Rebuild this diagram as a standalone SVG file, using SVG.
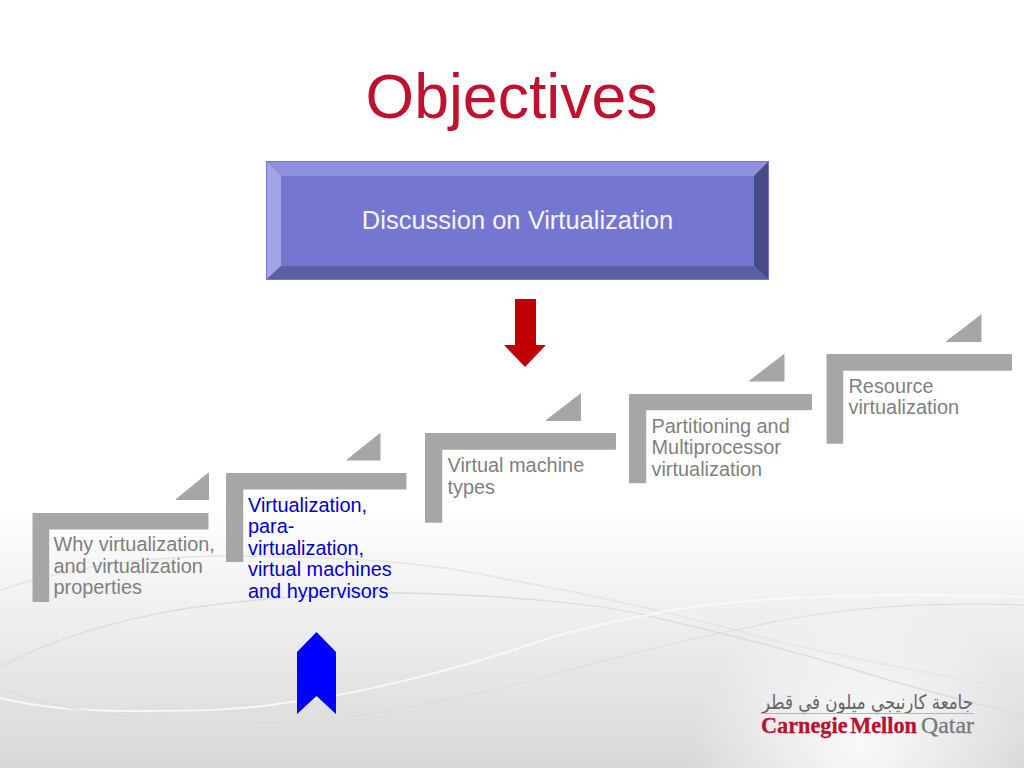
<svg xmlns="http://www.w3.org/2000/svg" width="1024" height="768" viewBox="0 0 1024 768">
<defs>
<linearGradient id="bg" x1="0" y1="0" x2="0" y2="1"><stop offset="0" stop-color="#ffffff"/><stop offset="0.66" stop-color="#ffffff"/><stop offset="0.8" stop-color="#efefef"/><stop offset="1" stop-color="#d8d8d8"/></linearGradient>
<radialGradient id="glow" cx="0.5" cy="0.5" r="0.5"><stop offset="0" stop-color="#ffffff" stop-opacity="0.85"/><stop offset="0.55" stop-color="#ffffff" stop-opacity="0.4"/><stop offset="1" stop-color="#ffffff" stop-opacity="0"/></radialGradient>
</defs>
<style>
.t{font-family:"Liberation Sans",Arial,sans-serif;font-size:19.900px}
.g{fill:#7f7f7f}.b{fill:#0000cc}.s{fill:#a6a6a6;stroke:#a6a6a6;stroke-width:1.500;stroke-linejoin:round}
.sw{fill:none;stroke-linecap:round}
</style>
<rect width="1024" height="768" fill="url(#bg)"/>
<ellipse cx="860" cy="745" rx="170" ry="150" fill="url(#glow)"/>
<g id="background-swooshes" class="sw">
<path d="M0 590C60 570 130 557 220 556 320 556 420 560 500 578 600 596 690 617 760 637 860 662 950 675 1024 693" stroke="#e4e4e4" stroke-width="1.500"/>
<path d="M0 667C50 640 130 613 229 603 290 596 340 593 392 593 450 593 590 600 653 617 700 628 780 647 849 668 920 690 980 705 1024 715" stroke="#dcdcdc" stroke-width="1.500"/>
<path d="M0 698C40 708 90 711 130 711 190 711 240 711 290 702 340 697 440 675 522 647 570 630 620 620 653 614 720 600 800 597 882 595 940 594 990 596 1024 597" stroke="#f8f8f8" stroke-width="2"/>
<path d="M0 688C30 700 60 707 100 713 150 720 200 723 260 723 320 724 400 712 522 683 590 664 680 640 751 627 800 615 850 608 920 605 960 604 1000 604 1024 605" stroke="#dcdcdc" stroke-width="1.200"/>
</g>
<text x="511.500" y="118" text-anchor="middle" font-family="'Liberation Sans',Arial,sans-serif" font-size="62.500" fill="#c0112f">Objectives</text>
<g id="main-box">
<rect x="266" y="161" width="503" height="119" fill="#7476d0"/>
<polygon points="267,162 768,162 754,176 281,176" fill="#8f90dc"/>
<polygon points="267,162 281,176 281,266 267,279" fill="#a3a4e3"/>
<polygon points="768,162 768,279 754,266 754,176" fill="#474a83"/>
<polygon points="267,279 281,266 754,266 768,279" fill="#5d5fa6"/>
<text x="517.500" y="229" text-anchor="middle" font-family="'Liberation Sans',Arial,sans-serif" font-size="25.500" fill="#f4f4fc">Discussion on Virtualization</text>
</g>
<g id="arrow-down"><polygon points="515,299 536,299 536,345 546,345 525,367 504,345 515,345" fill="#c00000"/></g>
<g id="step-1">
<polygon class="s" points="33.250,513.750 207.750,513.750 207.750,528.750 48.500,528.750 48.500,601.250 33.250,601.250"/>
<polygon points="208.500,473 208.500,499.500 176,499.500" class="s" style="stroke-width:1"/>
<text class="t g"><tspan x="53.500" y="551">Why virtualization,</tspan><tspan x="53.500" y="573">and virtualization</tspan><tspan x="53.500" y="594">properties</tspan></text>
</g>
<g id="step-2">
<polygon class="s" points="226.750,473.750 405.750,473.750 405.750,488.750 242.500,488.750 242.500,561.250 226.750,561.250"/>
<polygon points="380,433.500 380,460 347,460" class="s" style="stroke-width:1"/>
<text class="t b"><tspan x="248" y="512">Virtualization,</tspan><tspan x="248" y="533">para-</tspan><tspan x="248" y="555">virtualization,</tspan><tspan x="248" y="576">virtual machines</tspan><tspan x="248" y="598">and hypervisors</tspan></text>
</g>
<g id="step-3">
<polygon class="s" points="425.750,433.750 615.250,433.750 615.250,449 441.500,449 441.500,522 425.750,522"/>
<polygon points="580.500,394 580.500,420.500 546,420.500" class="s" style="stroke-width:1"/>
<text class="t g"><tspan x="447.500" y="472">Virtual machine</tspan><tspan x="447.500" y="494">types</tspan></text>
</g>
<g id="step-4">
<polygon class="s" points="629.750,394.750 811.250,394.750 811.250,409.500 645.500,409.500 645.500,482.500 629.750,482.500"/>
<polygon points="736,381 736,381" class="s" style="display:none"/>
<polygon points="784,354.500 784,381 749.500,381" class="s" style="stroke-width:1"/>
<text class="t g"><tspan x="651.500" y="433">Partitioning and</tspan><tspan x="651.500" y="454">Multiprocessor</tspan><tspan x="651.500" y="476">virtualization</tspan></text>
</g>
<g id="step-5">
<polygon class="s" points="827.250,354.750 1011.250,354.750 1011.250,370 842.500,370 842.500,443 827.250,443"/>
<polygon points="981,315 981,341.500 946.500,341.500" class="s" style="stroke-width:1"/>
<text class="t g"><tspan x="848.500" y="393">Resource</tspan><tspan x="848.500" y="414">virtualization</tspan></text>
</g>
<g id="arrow-up"><polygon points="316.500,632 336,652 336,714 316.500,696 297,714 297,652" fill="#0000ff"/></g>
<g id="logo">
<text x="762" y="709" font-family="'DejaVu Sans',sans-serif" font-size="20" fill="#666666" textLength="211" lengthAdjust="spacingAndGlyphs">جامعة كارنيجي ميلون في قطر</text>
<rect x="762" y="713" width="212" height="1" fill="#b5b5b5"/>
<text x="761" y="733" font-family="'Liberation Serif',serif" font-weight="bold" font-size="23" fill="#b5132f" stroke="#b5132f" stroke-width="0.300" word-spacing="-3" textLength="156" lengthAdjust="spacingAndGlyphs">Carnegie Mellon</text>
<text x="921" y="733" font-family="'Liberation Serif',serif" font-size="23" fill="#7a7a7a" stroke="#7a7a7a" stroke-width="0.300" textLength="53" lengthAdjust="spacingAndGlyphs">Qatar</text>
</g>
</svg>
